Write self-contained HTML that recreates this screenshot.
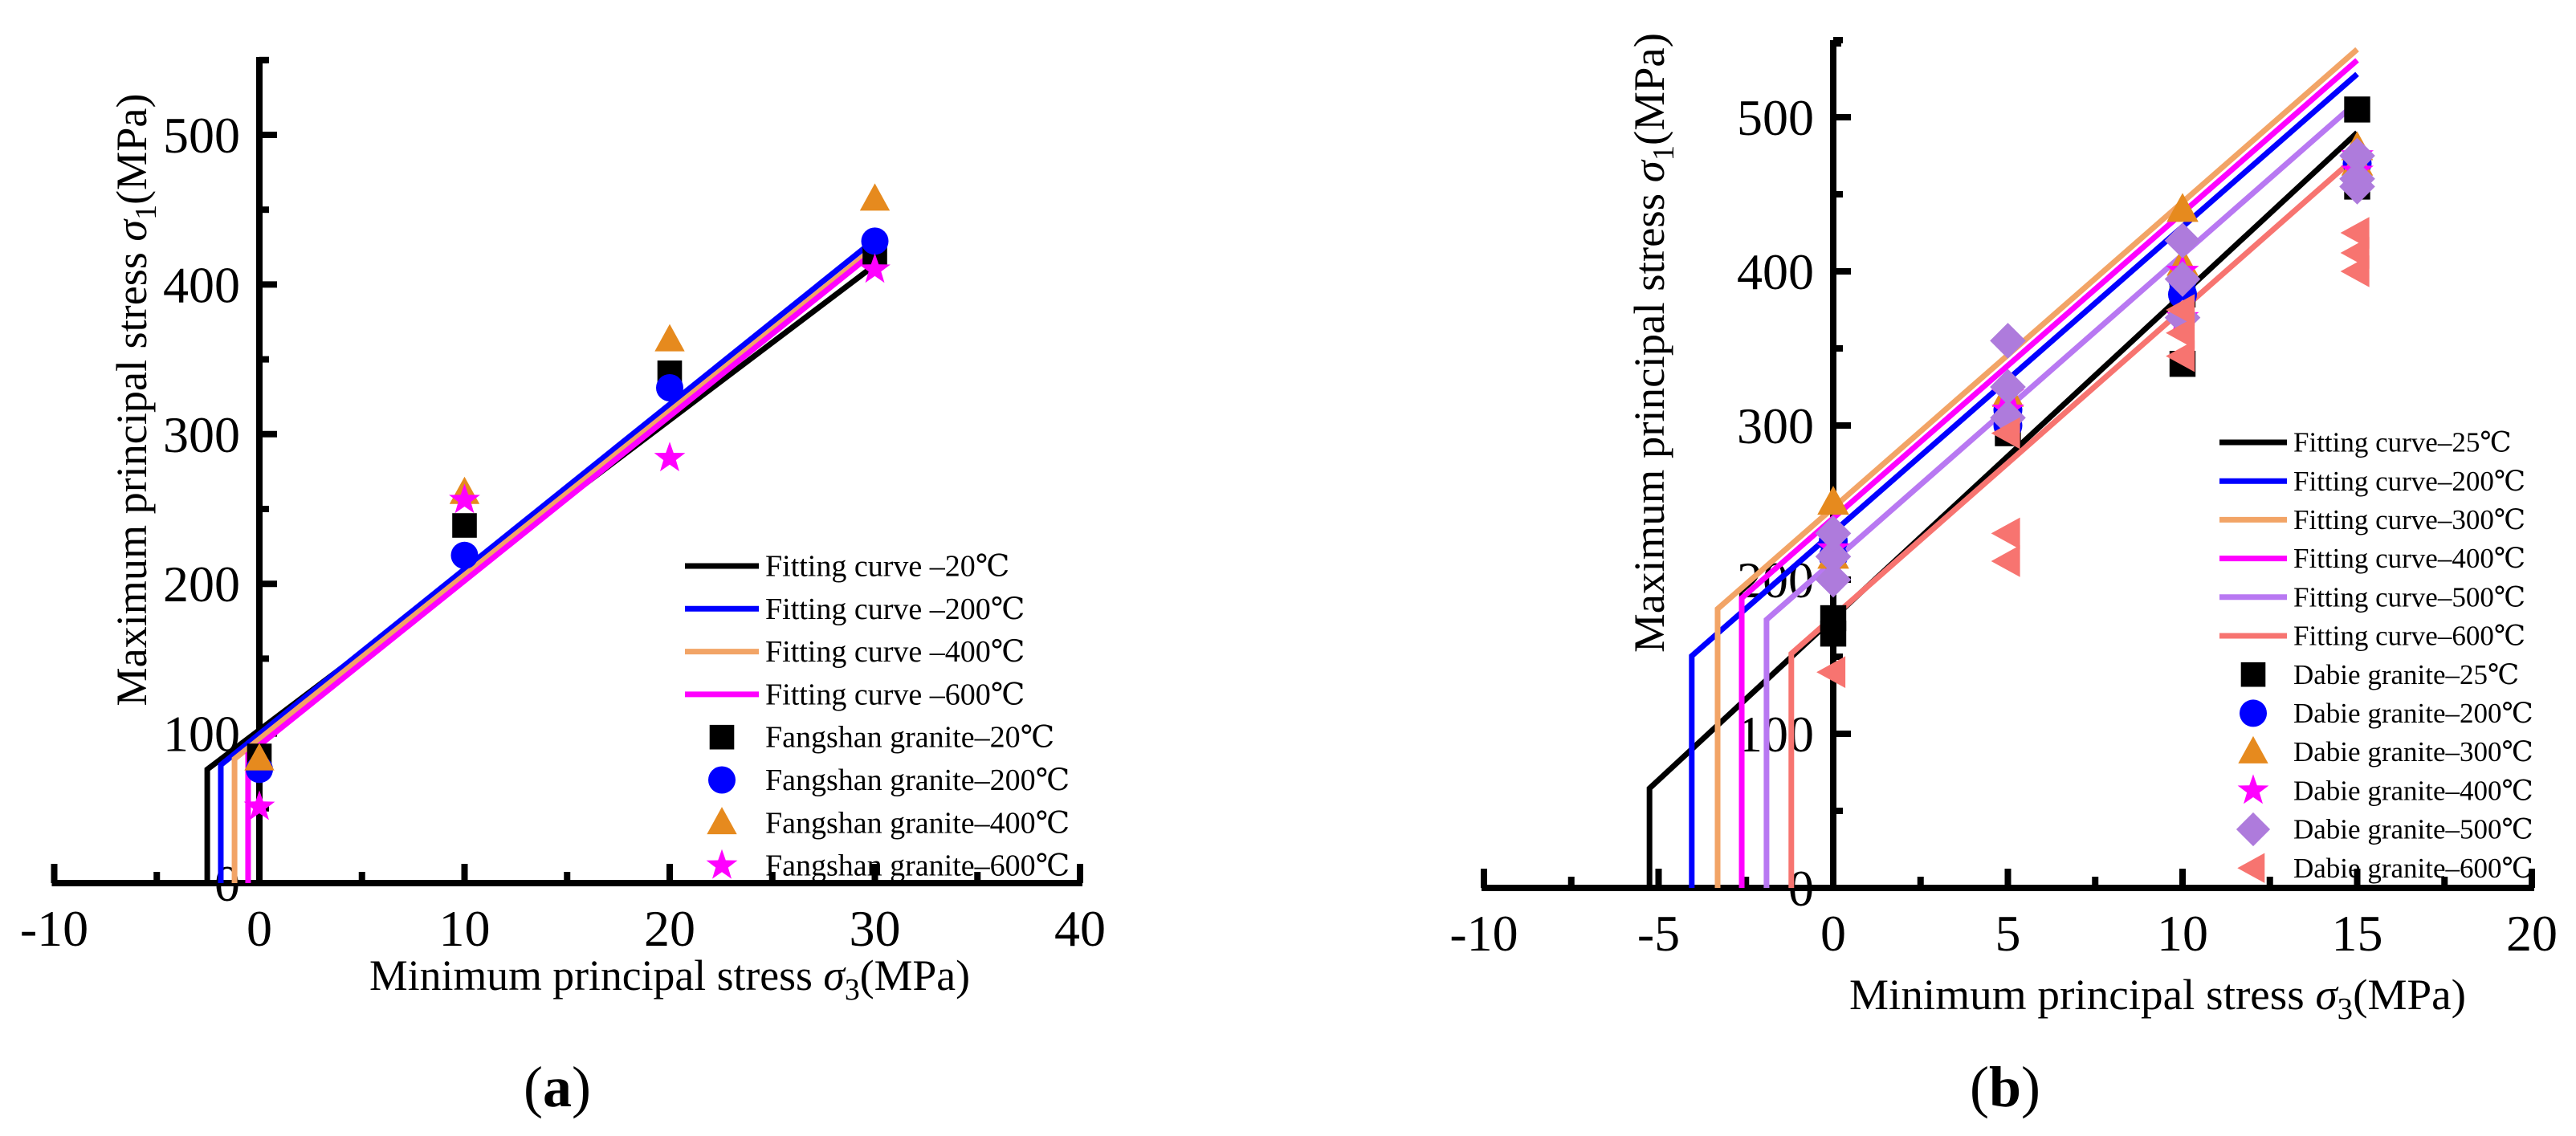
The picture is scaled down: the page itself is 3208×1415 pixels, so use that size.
<!DOCTYPE html>
<html><head><meta charset="utf-8"><style>
html,body{margin:0;padding:0;background:#fff;}
svg{display:block;font-family:"Liberation Serif","DejaVu Serif","Noto Serif CJK SC",serif;}
</style></head><body>
<svg id="fig" width="3208" height="1415" viewBox="0 0 3208 1415" xmlns="http://www.w3.org/2000/svg">
<g id="pa"></g>
<g id="pb"></g>
</svg>
<script>
// ---------- Panel (a) data ----------
const aXTicks = [-10, 0, 10, 20, 30, 40];
const aYTicks = [0, 100, 200, 300, 400, 500];
const aFitNames = ["Fitting curve \u201320\u2103","Fitting curve \u2013200\u2103","Fitting curve \u2013400\u2103","Fitting curve \u2013600\u2103"];
const aFitCutX = [-2.54, -1.88, -1.21, -0.55];
const aFitCutY = [76, 79, 83, 86];
const aFitEndY = [413, 430, 425, 422];
const aFitEndX = [30, 30, 30, 30];
const aPtNames = ["Fangshan granite\u201320\u2103","Fangshan granite\u2013200\u2103","Fangshan granite\u2013400\u2103","Fangshan granite\u2013600\u2103"];
const aPtX = [0, 10, 20, 30];
const aSq = [85, 239, 341, 421];
const aCi = [76, 219, 331, 429];
const aTr = [83, 261, 363, 457];
const aSt = [51, 256, 284, 410];

// ---------- Panel (b) data ----------
const bXTicks = [-10, -5, 0, 5, 10, 15, 20];
const bYTicks = [0, 100, 200, 300, 400, 500];
const bFitNames = ["Fitting curve\u201325\u2103","Fitting curve\u2013200\u2103","Fitting curve\u2013300\u2103","Fitting curve\u2013400\u2103","Fitting curve\u2013500\u2103","Fitting curve\u2013600\u2103"];
const bFitCutX = [-5.26, -4.05, -3.31, -2.62, -1.91, -1.20];
const bFitCutY = [64.6, 150.5, 181, 188, 174, 152];
const bFitEndY = [490, 528, 544, 537, 510, 475];
const bFitEndX = [15, 15, 15, 15, 15, 15];
const bPtNames = ["Dabie granite\u201325\u2103","Dabie granite\u2013200\u2103","Dabie granite\u2013300\u2103","Dabie granite\u2013400\u2103","Dabie granite\u2013500\u2103","Dabie granite\u2013600\u2103"];
const bSqX = [0, 0, 5, 5, 10, 10, 15, 15];
const bSqY = [165, 175, 295, 305, 340, 385, 505, 455];
const bCiX = [0, 0, 5, 5, 10, 10, 15, 15];
const bCiY = [215, 225, 300, 310, 385, 395, 460, 470];
const bTrX = [0, 0, 5, 10, 10, 15, 15];
const bTrY = [250, 215, 320, 440, 405, 470, 480];
const bStX = [0, 5, 5, 10, 10, 15, 15];
const bStY = [220, 310, 320, 400, 370, 465, 475];
const bDiX = [0, 0, 0, 5, 5, 5, 10, 10, 10, 15, 15, 15];
const bDiY = [200, 215, 230, 355, 325, 305, 420, 395, 370, 475, 460, 455];
const bLtX = [0, 5, 5, 5, 10, 10, 10, 15, 15, 15];
const bLtY = [140, 230, 212, 295, 345, 360, 375, 425, 412, 400];

const NS = "http://www.w3.org/2000/svg";
function mk(tag, attrs, parent){
  const e = document.createElementNS(NS, tag);
  for (const k in attrs) e.setAttribute(k, attrs[k]);
  parent.appendChild(e);
  return e;
}
const fitColors6 = ["#000000","#0000ff","#f2a466","#ff00ff","#b878f2","#f77470"];
const ptColors6 = ["#000000","#0000ff","#e68a1e","#ff00ff","#ae7bdc","#f77470"];

function marker(g, shape, cx, cy, color, s){
  let e;
  if (shape === "sq") e = mk("rect", {x: cx - s*0.45, y: cy - s*0.45, width: s*0.9, height: s*0.9, fill: color}, g);
  else if (shape === "ci") e = mk("circle", {cx: cx, cy: cy, r: s*0.5, fill: color}, g);
  else if (shape === "tr") e = mk("polygon", {points: `${cx},${cy-s*0.58} ${cx+s*0.55},${cy+s*0.42} ${cx-s*0.55},${cy+s*0.42}`, fill: color}, g);
  else if (shape === "lt") e = mk("polygon", {points: `${cx-s*0.58},${cy} ${cx+s*0.42},${cy-s*0.55} ${cx+s*0.42},${cy+s*0.55}`, fill: color}, g);
  else if (shape === "di") e = mk("polygon", {points: `${cx},${cy-s*0.62} ${cx+s*0.62},${cy} ${cx},${cy+s*0.62} ${cx-s*0.62},${cy}`, fill: color}, g);
  else {
    let pts = [];
    for (let i = 0; i < 10; i++) {
      const r = i % 2 ? s*0.24 : s*0.6;
      const a = -Math.PI/2 + i*Math.PI/5;
      pts.push((cx + r*Math.cos(a)).toFixed(1) + "," + (cy + r*Math.sin(a)).toFixed(1));
    }
    e = mk("polygon", {points: pts.join(" "), fill: color}, g);
  }
  return e;
}

function axes(g, cfg){
  const X = cfg.X, Y = cfg.Y;
  const ax = mk("g", {}, g);
  
  
  const xl = mk("line", {x1: X(cfg.xmin)-3, y1: Y(0), x2: X(cfg.xmax)+3, y2: Y(0), stroke: "#000", "stroke-width": 8}, ax);
  
  
  const yl = mk("line", {x1: X(0), y1: Y(0)+4, x2: X(0), y2: cfg.yTop, stroke: "#000", "stroke-width": 8}, ax);
  
  
  mk("line", {x1: X(0), y1: cfg.yTop+4, x2: X(0)+10, y2: cfg.yTop+4, stroke: "#000", "stroke-width": 8}, ax);
  for (let v = cfg.xmin; v <= cfg.xmax + 1e-9; v += cfg.xMinor) {
    const major = cfg.xTicks.some(t => Math.abs(t - v) < 1e-9);
    mk("line", {x1: X(v), y1: Y(0), x2: X(v), y2: Y(0) - (major ? 24 : 14), stroke: "#000", "stroke-width": 8}, ax);
  }
  cfg.xTicks.forEach(t => {
    const tx = mk("text", {x: X(t), y: Y(0) + 78, "font-size": 64, "text-anchor": "middle"}, ax);
    tx.textContent = t;
    
    
  });
  for (let v = 0; v <= 550; v += 50) {
    const major = v % 100 === 0;
    mk("line", {x1: X(0), y1: Y(v), x2: X(0) + (major ? 22 : 12), y2: Y(v), stroke: "#000", "stroke-width": 8}, ax);
  }
  cfg.yTicks.forEach(t => {
    const ty = mk("text", {x: X(0) - 24, y: Y(t) + 22, "font-size": 64, "text-anchor": "end"}, ax);
    ty.textContent = t;
    
    
  });
  const xt = mk("text", {x: cfg.xtX, y: cfg.xtY, "font-size": 54, "text-anchor": "middle", textLength: cfg.xtLen, lengthAdjust: "spacingAndGlyphs"}, ax);
  xt.innerHTML = 'Minimum principal stress <tspan font-style="italic">σ</tspan><tspan font-size="38" dy="12">3</tspan><tspan dy="-12">(MPa)</tspan>';
  
  
  const yt = mk("text", {x: 0, y: 0, "font-size": 54, "text-anchor": "middle", textLength: cfg.ytLen, lengthAdjust: "spacingAndGlyphs", transform: `translate(${cfg.ytX},${cfg.ytY}) rotate(-90)`}, ax);
  yt.innerHTML = 'Maximum principal stress <tspan font-style="italic">σ</tspan><tspan font-size="38" dy="12">1</tspan><tspan dy="-12">(MPa)</tspan>';
  
  
  const pl = mk("text", {x: cfg.plX, y: cfg.plY, "font-size": 72, "text-anchor": "middle"}, ax);
  pl.innerHTML = '(<tspan font-weight="bold">' + cfg.letter + '</tspan>)';
  
  
}

function fits(g, X, Y, cutX, cutY, endX, endY, colors){
  cutX.forEach((cx, i) => {
    const p = mk("polyline", {points: `${X(cx)},${Y(0)} ${X(cx)},${Y(cutY[i])} ${X(endX[i])},${Y(endY[i])}`, fill: "none", stroke: colors[i], "stroke-width": 7, "stroke-linejoin": "miter"}, g);
    
    
  });
}

function legend(g, x0, y0, dy, lineW, fs, items){
  const lg = mk("g", {}, g);
  
  
  items.forEach((it, i) => {
    const y = y0 + i*dy;
    const eg = mk("g", {}, lg);
    
    
    if (it.line) mk("line", {x1: x0, y1: y, x2: x0 + lineW, y2: y, stroke: it.color, "stroke-width": 7}, eg);
    else marker(eg, it.shape, x0 + lineW/2, y, it.color, it.size);
    const t = mk("text", {x: x0 + lineW + 8, y: y + fs*0.33, "font-size": fs}, eg);
    t.textContent = it.name;
  });
}

(function(){
  const g = document.getElementById("pa");
  const X = v => 323 + v*25.55;
  const Y = v => 1100 - v*1.864;
  axes(g, {X, Y, xmin: -10, xmax: 40, xMinor: 5, xTicks: aXTicks, yTicks: aYTicks, yTop: 71,
    xtX: 834, xtY: 1233, xtLen: 748, ytX: 182, ytY: 498, ytLen: 763, plX: 694, plY: 1378, letter: "a"});
  fits(g, X, Y, aFitCutX, aFitCutY, aFitEndX, aFitEndY, ["#000000","#0000ff","#f2a466","#ff00ff"]);
  const pg = mk("g", {}, g);
  
  
  const s = 34;
  aPtX.forEach((x, i) => {
    const m1 = marker(pg, "sq", X(x), Y(aSq[i]), "#000", s);
    
    
  });
  aPtX.forEach((x, i) => {
    const m2 = marker(pg, "ci", X(x), Y(aCi[i]), "#0000ff", s);
    
    
  });
  aPtX.forEach((x, i) => {
    const m3 = marker(pg, "tr", X(x), Y(aTr[i]), "#e68a1e", s);
    
    
  });
  aPtX.forEach((x, i) => {
    const m4 = marker(pg, "st", X(x), Y(aSt[i]), "#ff00ff", s);
    
    
  });
  const items = [];
  const lc = ["#000000","#0000ff","#f2a466","#ff00ff"];
  aFitNames.forEach((n, i) => items.push({line: true, color: lc[i], name: n}));
  const sh = ["sq","ci","tr","st"], pc = ["#000","#0000ff","#e68a1e","#ff00ff"];
  aPtNames.forEach((n, i) => items.push({shape: sh[i], color: pc[i], size: 34, name: n}));
  legend(g, 853, 705, 53.3, 92, 38, items);
})();

(function(){
  const g = document.getElementById("pb");
  const X = v => 2283 + v*43.5;
  const Y = v => 1106 - v*1.92;
  axes(g, {X, Y, xmin: -10, xmax: 20, xMinor: 2.5, xTicks: bXTicks, yTicks: bYTicks, yTop: 50,
    xtX: 2687, xtY: 1257, xtLen: 768, ytX: 2072, ytY: 427, ytLen: 772, plX: 2497, plY: 1378, letter: "b"});
  fits(g, X, Y, bFitCutX, bFitCutY, bFitEndX, bFitEndY, fitColors6);
  const pg = mk("g", {}, g);
  
  
  const s = 36;
  bSqX.forEach((x, i) => {
    const m = marker(pg, "sq", X(x), Y(bSqY[i]), ptColors6[0], s);
    
    
  });
  bCiX.forEach((x, i) => {
    const m = marker(pg, "ci", X(x), Y(bCiY[i]), ptColors6[1], s);
    
    
  });
  bTrX.forEach((x, i) => {
    const m = marker(pg, "tr", X(x), Y(bTrY[i]), ptColors6[2], s);
    
    
  });
  bStX.forEach((x, i) => {
    const m = marker(pg, "st", X(x), Y(bStY[i]), ptColors6[3], s);
    
    
  });
  bDiX.forEach((x, i) => {
    const m = marker(pg, "di", X(x), Y(bDiY[i]), ptColors6[4], s);
    
    
  });
  bLtX.forEach((x, i) => {
    const m = marker(pg, "lt", X(x), Y(bLtY[i]), ptColors6[5], s);
    
    
  });
  const items = [];
  bFitNames.forEach((n, i) => items.push({line: true, color: fitColors6[i], name: n}));
  const sh = ["sq","ci","tr","st","di","lt"];
  bPtNames.forEach((n, i) => items.push({shape: sh[i], color: ptColors6[i], size: 34, name: n}));
  legend(g, 2764, 551, 48.2, 84, 35, items);
})();
</script>
</body></html>
